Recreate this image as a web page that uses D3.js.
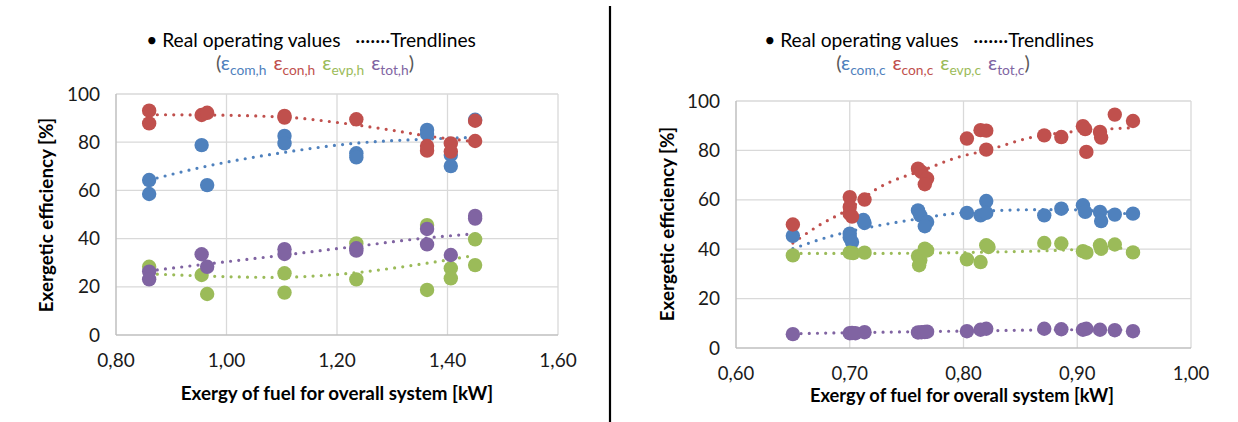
<!DOCTYPE html>
<html>
<head>
<meta charset="utf-8">
<script src="https://cdn.jsdelivr.net/npm/d3@7"></script>
<style>
	body { margin: 0; background: #fff; }
	svg { display: block; font-family: Lato, "Open Sans", sans-serif; }
</style>
</head>
<body>
<script>
"use strict";

// ---- data: heating mode (left) ----
let heatCom = [[0.86,64.3],[0.86,58.5],[0.955,78.8],[0.965,62.2],[1.105,82.6],[1.105,79.5],[1.235,75.4],[1.235,73.7],[1.363,85.1],[1.363,83.4],[1.406,74.7],[1.406,70.1],[1.45,89.3]];
let heatCon = [[0.86,93.1],[0.86,87.8],[0.955,91.3],[0.965,92.2],[1.105,90.9],[1.105,90.2],[1.235,89.5],[1.363,78.4],[1.363,76.5],[1.406,79.5],[1.406,76.1],[1.45,88.9],[1.45,80.5]];
let heatEvp = [[0.86,28.3],[0.955,24.9],[0.965,17.0],[1.105,25.6],[1.105,17.6],[1.235,38.0],[1.235,23.1],[1.363,45.6],[1.363,18.7],[1.406,27.7],[1.406,23.5],[1.45,39.7],[1.45,29.0]];
let heatTot = [[0.86,26.3],[0.86,23.1],[0.955,33.5],[0.965,28.3],[1.105,35.6],[1.105,33.6],[1.235,36.0],[1.235,35.0],[1.363,44.0],[1.363,37.6],[1.406,33.2],[1.45,49.4],[1.45,48.3]];

// trendlines
let heatComTrend = [[0.86,64.3],[0.955,69.6],[1.105,75.8],[1.235,79.6],[1.363,81.3],[1.45,82.0]];
let heatConTrend = [[0.86,91.4],[0.955,91.3],[1.105,90.4],[1.2,88.2],[1.296,85.1],[1.363,82.6],[1.45,80.2]];
let heatEvpTrend = [[0.86,25.4],[1.0,24.2],[1.085,23.9],[1.193,25.0],[1.363,29.8],[1.45,33.1]];
let heatTotTrend = [[0.86,26.6],[0.955,29.2],[1.105,33.2],[1.235,36.8],[1.363,40.3],[1.45,42.0]];

// ---- data: cooling mode (right) ----
let coolCom = [[0.65,45.4],[0.70,46.3],[0.70,44.7],[0.702,42.9],[0.713,50.6],[0.712,51.8],[0.76,55.7],[0.762,53.7],[0.768,51.0],[0.766,49.3],[0.803,54.7],[0.815,53.7],[0.82,59.5],[0.82,54.7],[0.871,53.7],[0.886,56.4],[0.905,57.8],[0.907,55.1],[0.92,55.1],[0.921,51.4],[0.933,54.0],[0.949,54.4]];
let coolCon = [[0.65,50.0],[0.70,61.1],[0.70,57.1],[0.70,54.4],[0.702,53.2],[0.713,60.1],[0.76,72.6],[0.763,71.3],[0.768,68.6],[0.766,66.3],[0.803,84.8],[0.815,88.2],[0.82,88.0],[0.82,80.3],[0.871,86.1],[0.886,85.4],[0.905,89.8],[0.907,88.6],[0.908,79.4],[0.92,87.5],[0.921,85.2],[0.933,94.5],[0.949,91.9]];
let coolEvp = [[0.65,37.5],[0.70,38.6],[0.703,38.4],[0.713,38.6],[0.76,37.2],[0.762,35.5],[0.761,33.5],[0.766,40.2],[0.768,39.5],[0.803,35.9],[0.815,34.8],[0.82,41.6],[0.822,40.9],[0.871,42.5],[0.886,42.3],[0.905,39.2],[0.908,38.6],[0.92,41.6],[0.921,40.2],[0.933,41.9],[0.949,38.7]];
let coolTot = [[0.65,5.6],[0.70,6.0],[0.702,6.1],[0.705,6.0],[0.713,6.4],[0.76,6.3],[0.763,6.4],[0.766,6.5],[0.768,6.6],[0.803,6.8],[0.815,7.4],[0.82,7.8],[0.871,7.8],[0.886,7.6],[0.905,7.4],[0.908,7.8],[0.92,7.4],[0.933,7.2],[0.949,6.8]];

let coolComTrend = [[0.65,40.2],[0.686,45.6],[0.722,49.3],[0.756,52.0],[0.791,54.4],[0.832,55.7],[0.864,56.0],[0.891,56.0],[0.945,54.3]];
let coolConTrend = [[0.65,42.5],[0.672,49.4],[0.70,56.5],[0.724,64.5],[0.768,72.6],[0.794,77.1],[0.82,80.0],[0.861,85.4],[0.894,87.5],[0.945,89.1]];
let coolEvpTrend = [[0.65,38.3],[0.72,38.3],[0.779,38.5],[0.829,38.9],[0.861,39.2],[0.897,39.8],[0.945,40.5]];
let coolTotTrend = [[0.65,5.8],[0.70,6.2],[0.76,6.6],[0.82,7.0],[0.87,7.3],[0.91,7.4],[0.945,7.3]];

// ticks and labels
let heatXTicks = [0.8, 1.0, 1.2, 1.4, 1.6];
let coolXTicks = [0.6, 0.7, 0.8, 0.9, 1.0];
let yTicks = [0, 20, 40, 60, 80, 100];
let legendSubsHeat = ["com,h", "con,h", "evp,h", "tot,h"];
let legendSubsCool = ["com,c", "con,c", "evp,c", "tot,c"];
let seriesColors = ["#4F81BD", "#C0504D", "#9BBB59", "#8064A2"];

let xTitle = "Exergy of fuel for overall system [kW]",
	yTitle = "Exergetic efficiency [%]";

let svg = d3.select("body").append("svg")
	.attr("width", 1238)
	.attr("height", 422);

// divider between the two charts
svg.append("line")
	.attr("x1", 610).attr("x2", 610)
	.attr("y1", 6).attr("y2", 422)
	.attr("stroke", "#000")
	.attr("stroke-width", 2.2);

function fmt(v, digits) {
	return v.toFixed(digits).replace(".", ",");
}

function drawChart(cfg) {

	let g = svg.append("g");

	let xScale = d3.scaleLinear()
		.domain(cfg.xDomain)
		.range([cfg.left, cfg.right]);

	let yScale = d3.scaleLinear()
		.domain([0, 100])
		.range([cfg.bottom, cfg.top]);

	// gridlines
	g.append("g").selectAll("line")
		.data(yTicks.slice(1))
		.enter().append("line")
			.attr("x1", cfg.left).attr("x2", cfg.right)
			.attr("y1", d => yScale(d)).attr("y2", d => yScale(d))
			.attr("stroke", "#D9D9D9").attr("stroke-width", 1.3);

	g.append("g").selectAll("line")
		.data(cfg.xTicks.slice(1))
		.enter().append("line")
			.attr("x1", d => xScale(d)).attr("x2", d => xScale(d))
			.attr("y1", cfg.top).attr("y2", cfg.bottom)
			.attr("stroke", "#D9D9D9").attr("stroke-width", 1.3);

	// axis lines
	g.append("line")
		.attr("x1", cfg.left).attr("x2", cfg.left)
		.attr("y1", cfg.top).attr("y2", cfg.bottom)
		.attr("stroke", "#BFBFBF").attr("stroke-width", 1.5);
	g.append("line")
		.attr("x1", cfg.left).attr("x2", cfg.right)
		.attr("y1", cfg.bottom).attr("y2", cfg.bottom)
		.attr("stroke", "#BFBFBF").attr("stroke-width", 1.5);

	// tick labels
	g.append("g").selectAll("text")
		.data(yTicks)
		.enter().append("text")
			.attr("x", cfg.left - 16)
			.attr("y", d => yScale(d) + 6.5)
			.attr("text-anchor", "end")
			.attr("font-size", 19)
			.attr("fill", "#1a1a1a")
			.text(d => d);

	g.append("g").selectAll("text")
		.data(cfg.xTicks)
		.enter().append("text")
			.attr("x", d => xScale(d))
			.attr("y", cfg.xTickY)
			.attr("text-anchor", "middle")
			.attr("font-size", cfg.xTickSize)
			.attr("fill", "#1a1a1a")
			.text(d => fmt(d, 2));

	// axis titles
	g.append("text")
		.attr("x", cfg.xTitleX)
		.attr("y", cfg.xTitleY)
		.attr("text-anchor", "middle")
		.attr("font-size", cfg.xTitleSize)
		.attr("font-weight", "bold")
		.attr("fill", "#000")
		.text(xTitle);

	g.append("text")
		.attr("transform", "translate(" + cfg.yTitleX + "," + cfg.yTitleY + ") rotate(-90)")
		.attr("text-anchor", "middle")
		.attr("font-size", 18.8)
		.attr("font-weight", "bold")
		.attr("fill", "#000")
		.text(yTitle);

	// trendlines (dotted)
	let line = d3.line()
		.x(d => xScale(d[0]))
		.y(d => yScale(d[1]))
		.curve(d3.curveMonotoneX);

	cfg.trends.forEach(function (t, i) {
		g.append("path")
			.attr("d", line(t))
			.attr("fill", "none")
			.attr("stroke", seriesColors[i])
			.attr("stroke-width", 3.2)
			.attr("stroke-linecap", "round")
			.attr("stroke-dasharray", "0,8.2");
	});

	// markers
	cfg.series.forEach(function (s, i) {
		g.append("g").selectAll("circle")
			.data(s)
			.enter().append("circle")
				.attr("cx", d => xScale(d[0]))
				.attr("cy", d => yScale(d[1]))
				.attr("r", 7.2)
				.attr("fill", seriesColors[i]);
	});

	// legend
	g.append("text")
		.attr("x", cfg.legendX)
		.attr("y", 47)
		.attr("text-anchor", "middle")
		.attr("font-size", 19.2)
		.attr("fill", "#000")
		.attr("xml:space", "preserve")
		.text("\u2022 Real operating values   \u00B7\u00B7\u00B7\u00B7\u00B7\u00B7\u00B7Trendlines");

	let leg2 = g.append("text")
		.attr("x", cfg.legendX + 4)
		.attr("y", 70)
		.attr("text-anchor", "middle")
		.attr("font-size", 20)
		.attr("fill", "#595959");
	leg2.append("tspan").text("(");
	cfg.subs.forEach(function (s, i) {
		leg2.append("tspan")
			.attr("fill", seriesColors[i])
			.attr("dx", i === 0 ? 0 : 7)
			.attr("dy", i === 0 ? 0 : -5)
			.text("\u03B5");
		leg2.append("tspan")
			.attr("fill", seriesColors[i])
			.attr("font-size", 13.8)
			.attr("dy", 5)
			.text(s);
	});
	leg2.append("tspan").attr("dy", -5).text(")");
}

drawChart({
	xDomain: [0.8, 1.6],
	xTicks: heatXTicks,
	left: 116, right: 558, top: 94, bottom: 335,
	xTickY: 367, xTickSize: 19,
	xTitleX: 337, xTitleY: 400, xTitleSize: 18.8,
	yTitleX: 53, yTitleY: 215,
	legendX: 311,
	subs: legendSubsHeat,
	series: [heatCom, heatCon, heatEvp, heatTot],
	trends: [heatComTrend, heatConTrend, heatEvpTrend, heatTotTrend]
});

drawChart({
	xDomain: [0.6, 1.0],
	xTicks: coolXTicks,
	left: 736, right: 1191, top: 101, bottom: 348,
	xTickY: 379.5, xTickSize: 18.5,
	xTitleX: 962, xTitleY: 402, xTitleSize: 18.3,
	yTitleX: 674, yTitleY: 224,
	legendX: 929,
	subs: legendSubsCool,
	series: [coolCom, coolCon, coolEvp, coolTot],
	trends: [coolComTrend, coolConTrend, coolEvpTrend, coolTotTrend]
});
</script>
</body>
</html>
